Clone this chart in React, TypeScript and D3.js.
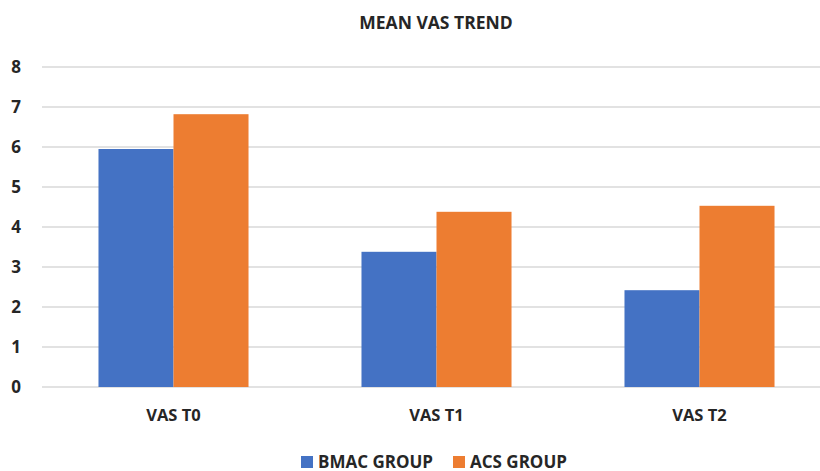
import React from "react";
import * as d3 from "d3";

const categories = ["VAS T0", "VAS T1", "VAS T2"];
const seriesNames = ["BMAC GROUP", "ACS GROUP"];
const bmacValues = [5.95, 3.38, 2.42];
const acsValues = [6.82, 4.38, 4.53];
const yTicks = [0, 1, 2, 3, 4, 5, 6, 7, 8];
const colors = ["#4472C4", "#ED7D31"];

const W = 820;
const H = 471;
const FONT = "'Open Sans', sans-serif";

export default function App() {
  const x = d3.scaleBand<string>().domain(categories).range([42, 831]).padding(0);
  const inner = d3
    .scaleBand<string>()
    .domain(seriesNames)
    .range([0, x.bandwidth()])
    .paddingInner(0)
    .paddingOuter(0.753);
  const y = d3.scaleLinear().domain([0, 8]).range([387, 67]);
  const series = [bmacValues, acsValues];

  return (
    <svg
      width={W}
      height={H}
      style={{ position: "absolute", left: 0, top: 0, background: "#fff" }}
      fontFamily={FONT}
    >
      <rect width={W} height={H} fill="#fff" />
      <text x={436} y={29} textAnchor="middle" fontWeight={700} fontSize={17.5} fill="#262626">
        MEAN VAS TREND
      </text>
      {yTicks.map((t) => (
        <g key={t}>
          <line x1={42} x2={W} y1={y(t)} y2={y(t)} stroke="#d9d9d9" strokeWidth={1.3} />
          <text
            x={21}
            y={y(t)}
            dy="0.36em"
            textAnchor="end"
            fontWeight={700}
            fontSize={17}
            fill="#262626"
          >
            {t}
          </text>
        </g>
      ))}
      {categories.map((c, i) => (
        <g key={c} transform={`translate(${x(c)},0)`}>
          {seriesNames.map((s, j) => (
            <rect
              key={s}
              x={inner(s)}
              y={y(series[j][i])}
              width={inner.bandwidth()}
              height={y(0) - y(series[j][i])}
              fill={colors[j]}
            />
          ))}
          <text
            x={x.bandwidth() / 2}
            y={421}
            textAnchor="middle"
            fontWeight={700}
            fontSize={16.5}
            fill="#262626"
          >
            {c}
          </text>
        </g>
      ))}
      <g>
        <rect x={301} y={456} width={12} height={12} fill={colors[0]} />
        <text x={318} y={467.5} fontWeight={700} fontSize={17} fill="#262626">
          {seriesNames[0]}
        </text>
        <rect x={453} y={456} width={12} height={12} fill={colors[1]} />
        <text x={470} y={467.5} fontWeight={700} fontSize={17} fill="#262626">
          {seriesNames[1]}
        </text>
      </g>
    </svg>
  );
}
